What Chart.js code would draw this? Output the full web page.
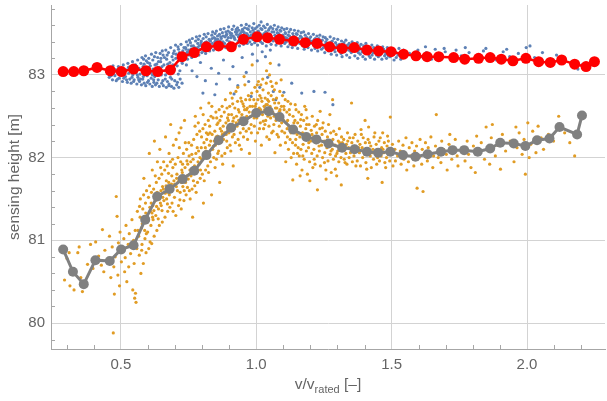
<!DOCTYPE html>
<html>
<head>
<meta charset="utf-8">
<script src="https://cdn.jsdelivr.net/npm/chart.js@4"></script>
<style>
  body { margin: 0; background: #fff; }
  canvas { display: block; }
</style>
</head>
<body>
<canvas id="chart" width="607" height="401"></canvas>
<script>
// tick labels
const xTicks = [0.5, 1.0, 1.5, 2.0];
const yTicks = [80, 81, 82, 83];

// binned mean, upper sensor (red)
const redX = [0.287,0.326,0.363,0.412,0.461,0.502,0.547,0.593,0.636,0.683,0.726,0.771,0.816,0.861,0.908,0.953,1.003,1.042,1.086,1.138,1.181,1.225,1.271,1.317,1.362,1.409,1.452,1.498,1.544,1.590,1.631,1.674,1.729,1.770,1.821,1.864,1.905,1.948,1.996,2.043,2.086,2.128,2.176,2.218,2.249];
const redY = [83.04,83.04,83.05,83.09,83.05,83.04,83.07,83.05,83.04,83.06,83.22,83.27,83.34,83.35,83.34,83.43,83.46,83.45,83.43,83.41,83.39,83.38,83.34,83.32,83.33,83.30,83.29,83.28,83.25,83.23,83.22,83.22,83.21,83.19,83.20,83.21,83.19,83.17,83.20,83.16,83.15,83.18,83.13,83.10,83.16];

// binned mean, lower sensor (gray)
const grayX = [0.287,0.323,0.363,0.406,0.459,0.501,0.547,0.590,0.634,0.680,0.728,0.771,0.816,0.861,0.907,0.953,1.000,1.046,1.086,1.136,1.185,1.222,1.267,1.317,1.363,1.409,1.450,1.495,1.542,1.588,1.633,1.682,1.725,1.768,1.818,1.864,1.901,1.951,1.994,2.037,2.083,2.120,2.185,2.203];
const grayY = [80.89,80.62,80.47,80.76,80.75,80.89,80.94,81.25,81.53,81.62,81.74,81.84,82.03,82.21,82.36,82.44,82.54,82.56,82.49,82.34,82.25,82.22,82.17,82.12,82.10,82.07,82.06,82.07,82.03,82.01,82.04,82.07,82.09,82.09,82.07,82.11,82.18,82.17,82.14,82.21,82.23,82.37,82.28,82.51];

// raw samples, upper sensor (blue)
const bluePts = [
[0.457,82.97],[0.461,83.05],[0.466,83.01],[0.469,82.94],[0.474,83.07],[0.478,82.99],[0.483,82.93],[0.486,83.03],[0.491,83.10],[0.494,82.96],
[0.499,83.08],[0.503,83.01],[0.506,82.92],[0.509,83.12],[0.513,83.04],[0.517,82.98],[0.519,83.06],[0.524,82.91],[0.526,83.14],[0.529,83.02],
[0.533,82.95],[0.537,83.10],[0.538,82.90],[0.543,83.16],[0.544,83.00],[0.548,83.07],[0.549,82.94],[0.554,83.12],[0.555,83.03],[0.559,82.89],
[0.562,83.18],[0.563,82.97],[0.567,83.08],[0.569,82.92],[0.571,83.01],[0.574,83.14],[0.576,82.88],[0.578,83.21],[0.581,82.95],[0.582,83.10],
[0.584,83.19],[0.586,82.90],[0.588,83.04],[0.591,83.23],[0.592,82.87],[0.595,83.06],[0.597,82.99],[0.599,83.15],[0.602,82.93],[0.603,83.20],
[0.605,83.02],[0.607,82.89],[0.609,83.11],[0.612,82.96],[0.613,83.25],[0.616,82.86],[0.618,83.18],[0.619,83.07],[0.622,82.91],[0.624,83.22],
[0.625,82.98],[0.628,82.88],[0.629,83.27],[0.632,83.13],[0.634,83.03],[0.636,83.21],[0.638,82.94],[0.641,83.09],[0.642,82.86],[0.645,83.26],
[0.647,83.16],[0.649,83.00],[0.651,82.90],[0.653,83.29],[0.656,83.24],[0.657,82.87],[0.659,83.12],[0.662,83.05],[0.664,82.95],[0.666,83.30],
[0.668,82.85],[0.669,83.19],[0.672,82.92],[0.674,83.08],[0.676,83.27],[0.678,82.89],[0.681,83.15],[0.683,82.97],[0.684,83.33],[0.687,82.86],
[0.689,83.22],[0.691,83.02],[0.693,83.18],[0.696,82.84],[0.697,83.29],[0.699,82.93],[0.702,83.36],[0.704,83.25],[0.706,82.88],[0.708,83.11],
[0.711,83.34],[0.713,83.31],[0.714,82.85],[0.717,83.20],[0.719,82.95],[0.722,83.37],[0.724,83.24],[0.726,82.90],[0.729,83.29],
[0.471,83.11],[0.488,82.95],[0.508,83.00],[0.521,82.94],[0.535,83.05],[0.547,82.92],[0.561,83.00],[0.573,82.95],[0.586,83.13],[0.598,82.91],
[0.611,83.03],[0.621,82.94],[0.633,82.90],[0.644,83.05],[0.655,82.93],[0.665,83.00],[0.677,82.87],[0.688,82.95],[0.698,83.07],[0.709,82.91],
[0.718,83.05],[0.727,83.14],[0.579,83.06],[0.603,83.09],[0.626,83.12],[0.648,83.20],[0.671,83.24],[0.694,83.26],[0.716,83.27],[0.733,83.33],
[0.464,82.99],[0.482,83.06],[0.496,83.02],[0.511,82.96],[0.528,83.09],[0.541,82.97],[0.557,83.10],[0.566,82.94],[0.583,82.98],[0.594,83.17],
[0.606,83.14],[0.617,83.00],[0.631,83.06],[0.639,83.16],[0.652,83.10],[0.661,83.21],[0.673,83.13],[0.682,83.04],[0.692,83.12],[0.703,83.20],
[0.712,83.01],[0.721,83.17],[0.731,83.21],
[0.737,83.22],[0.739,83.33],[0.742,83.40],[0.744,83.27],[0.746,83.19],[0.748,83.36],[0.751,83.30],[0.753,83.42],[0.756,83.25],[0.757,83.39],
[0.759,83.31],[0.762,83.21],[0.764,83.44],[0.766,83.28],[0.768,83.35],[0.771,83.23],[0.773,83.33],[0.776,83.41],[0.777,83.26],[0.779,83.46],
[0.782,83.29],[0.784,83.38],[0.786,83.43],[0.788,83.24],[0.791,83.47],[0.793,83.31],[0.795,83.36],[0.797,83.41],[0.799,83.27],[0.802,83.34],
[0.804,83.44],[0.806,83.29],[0.808,83.49],[0.811,83.39],[0.813,83.26],[0.815,83.46],[0.817,83.32],[0.822,83.50],[0.824,83.36],[0.826,83.43],
[0.828,83.29],[0.831,83.41],[0.833,83.33],[0.836,83.48],[0.838,83.38],[0.839,83.52],[0.842,83.30],[0.844,83.45],[0.846,83.36],[0.848,83.50],
[0.851,83.42],[0.853,83.53],[0.855,83.34],[0.857,83.47],[0.859,83.39],[0.862,83.37],[0.864,83.49],[0.866,83.31],[0.868,83.55],[0.871,83.44],
[0.873,83.35],[0.875,83.51],[0.877,83.40],[0.881,83.56],[0.883,83.38],[0.885,83.46],[0.887,83.33],[0.891,83.49],[0.892,83.42],[0.894,83.36],
[0.896,83.53],[0.898,83.58],[0.901,83.40],[0.903,83.51],[0.905,83.34],[0.907,83.45],[0.911,83.55],[0.913,83.38],[0.915,83.47],[0.917,83.59],
[0.921,83.43],[0.923,83.52],[0.925,83.36],[0.927,83.49],[0.931,83.57],[0.933,83.41],[0.934,83.46],[0.936,83.54],[0.938,83.35],[0.941,83.50],
[0.943,83.39],[0.945,83.60],[0.947,83.44],[0.951,83.53],[0.953,83.37],[0.955,83.47],[0.957,83.57],
[0.747,83.28],[0.768,83.31],[0.789,83.35],[0.809,83.38],[0.829,83.41],[0.849,83.44],[0.869,83.46],[0.889,83.48],[0.909,83.50],[0.929,83.52],[0.949,83.55],
[0.741,83.31],[0.752,83.24],[0.761,83.35],[0.774,83.29],[0.783,83.33],[0.796,83.39],[0.807,83.33],[0.816,83.40],[0.827,83.37],[0.837,83.44],
[0.847,83.40],[0.858,83.43],[0.867,83.41],[0.878,83.47],[0.888,83.52],[0.897,83.45],[0.906,83.48],[0.919,83.45],[0.926,83.55],[0.937,83.48],
[0.946,83.52],[0.956,83.51],
[0.961,83.42],[0.963,83.61],[0.965,83.50],[0.967,83.38],[0.971,83.55],[0.972,83.46],[0.974,83.59],[0.976,83.40],[0.978,83.52],[0.981,83.48],
[0.983,83.37],[0.985,83.57],[0.987,83.43],[0.991,83.62],[0.993,83.51],[0.994,83.39],[0.996,83.56],[0.998,83.45],[1.001,83.47],[1.003,83.58],
[1.005,83.36],[1.007,83.53],[1.011,83.60],[1.012,83.44],[1.014,83.50],[1.016,83.40],[1.018,83.64],[1.021,83.55],[1.023,83.38],[1.025,83.48],
[1.027,83.59],[1.031,83.42],[1.033,83.57],[1.035,83.52],[1.037,83.35],[1.041,83.61],[1.043,83.46],[1.045,83.54],[1.047,83.40],[1.051,83.49],
[1.053,83.58],[1.055,83.37],[1.057,83.44],[1.061,83.56],[1.063,83.41],[1.065,83.52],[1.067,83.60],[1.071,83.47],[1.073,83.36],[1.075,83.55],
[1.077,83.43],[1.081,83.58],[1.083,83.50],[1.085,83.39],[1.087,83.45],[1.091,83.53],[1.092,83.35],[1.094,83.57],[1.096,83.42],[1.098,83.48],
[1.101,83.46],[1.103,83.55],[1.105,83.38],[1.107,83.51],[1.111,83.40],[1.113,83.56],[1.115,83.44],[1.117,83.34],[1.121,83.52],[1.123,83.47],
[1.125,83.37],[1.127,83.55],[1.131,83.43],[1.133,83.33],[1.135,83.50],[1.137,83.39],[1.141,83.54],[1.143,83.46],[1.145,83.36],[1.147,83.41],
[1.151,83.49],[1.153,83.32],[1.155,83.53],[1.157,83.44],[1.161,83.38],[1.163,83.47],[1.166,83.51],[1.171,83.43],[1.173,83.35],[1.175,83.52],
[1.177,83.31],[1.181,83.48],[1.184,83.40],[1.187,83.45],[1.191,83.33],[1.193,83.50],[1.195,83.37],[1.197,83.44],
[0.969,83.48],[0.989,83.50],[1.009,83.52],[1.029,83.50],[1.049,83.49],[1.069,83.48],[1.089,83.47],[1.109,83.45],[1.129,83.44],[1.149,83.43],
[1.169,83.41],[1.189,83.40],
[0.966,83.56],[0.977,83.45],[0.988,83.54],[0.997,83.50],[1.008,83.45],[1.017,83.56],[1.028,83.45],[1.038,83.51],[1.048,83.56],[1.058,83.52],
[1.068,83.44],[1.078,83.51],[1.088,83.54],[1.099,83.41],[1.108,83.50],[1.118,83.48],[1.128,83.41],[1.138,83.47],[1.148,83.50],[1.158,83.40],
[1.168,83.45],[1.178,83.38],[1.188,83.43],[1.198,83.41],
[1.201,83.46],[1.204,83.30],[1.207,83.41],[1.211,83.49],[1.213,83.36],[1.215,83.43],[1.217,83.32],[1.221,83.39],[1.224,83.47],[1.227,83.29],
[1.231,83.44],[1.233,83.34],[1.235,83.48],[1.237,83.38],[1.241,83.31],[1.244,83.42],[1.247,83.46],[1.251,83.36],[1.253,83.27],[1.255,83.45],
[1.257,83.40],[1.261,83.43],[1.264,83.33],[1.267,83.29],[1.271,83.38],[1.273,83.46],[1.275,83.31],[1.277,83.25],[1.281,83.41],[1.284,83.35],
[1.287,83.44],[1.291,83.28],[1.293,83.39],[1.295,83.33],[1.297,83.24],[1.301,83.43],[1.304,83.30],[1.307,83.37],[1.311,83.35],[1.313,83.26],
[1.315,83.41],[1.317,83.22],[1.321,83.32],[1.324,83.39],[1.327,83.28],[1.331,83.42],[1.334,83.24],[1.337,83.36],[1.341,83.30],[1.343,83.38],
[1.345,83.21],[1.347,83.34],[1.351,83.27],[1.354,83.40],[1.357,83.33],[1.361,83.36],[1.364,83.23],[1.367,83.30],[1.371,83.31],[1.373,83.39],
[1.375,83.20],[1.377,83.27],[1.381,83.34],[1.384,83.25],[1.387,83.37],[1.391,83.28],[1.394,83.22],[1.397,83.35],[1.401,83.32],[1.403,83.19],
[1.405,83.38],[1.407,83.26],[1.411,83.29],[1.414,83.34],[1.417,83.23],[1.421,83.21],[1.424,83.31],[1.427,83.36],[1.431,83.27],[1.434,83.33],
[1.437,83.19],[1.441,83.30],[1.444,83.24],[1.447,83.35],[1.451,83.22],[1.454,83.28],[1.457,83.32],[1.461,83.26],[1.464,83.19],[1.467,83.34],
[1.471,83.31],[1.474,83.23],[1.477,83.28],[1.481,83.20],[1.484,83.33],[1.487,83.26],[1.491,83.29],[1.494,83.22],[1.503,83.25],[1.506,83.31],
[1.509,83.18],[1.514,83.28],[1.517,83.21],[1.523,83.24],[1.527,83.32],[1.534,83.19],[1.538,83.27],[1.544,83.30],[1.548,83.23],
[1.208,83.38],[1.218,83.44],[1.228,83.36],[1.238,83.41],[1.248,83.33],[1.258,83.38],[1.268,83.35],[1.278,83.40],[1.288,83.31],[1.298,83.36],
[1.308,83.33],[1.318,83.37],[1.328,83.30],[1.338,83.33],[1.348,83.29],[1.358,83.31],[1.368,83.35],[1.378,83.30],[1.388,83.31],[1.398,83.27],
[1.408,83.30],[1.418,83.28],[1.428,83.24],[1.438,83.29],[1.448,83.27],[1.458,83.24],[1.468,83.29],[1.478,83.25],[1.488,83.23],[1.498,83.27],
[1.566,83.26],[1.583,83.20],[1.597,83.30],[1.612,83.22],[1.628,83.27],[1.647,83.19],[1.661,83.31],[1.679,83.24],[1.698,83.28],[1.716,83.21],
[1.738,83.30],[1.757,83.23],[1.786,83.27],[1.808,83.20],[1.839,83.29],[1.862,83.24],[1.887,83.18],[1.912,83.28],[1.936,83.22],[1.968,83.26],
[1.997,83.33],[2.011,83.35],[2.028,83.21],[2.057,83.27],[2.083,83.18],[2.109,83.24],[2.137,83.20],[2.162,83.15],[2.188,83.07],[2.203,83.12],
[1.625,83.34],[1.694,83.32],[1.772,83.33],[1.848,83.32],[1.925,83.31],
[0.742,83.12],[0.763,83.05],[0.781,82.98],[0.794,83.15],[0.812,82.93],[0.834,83.08],[0.853,82.89],[0.861,83.02],[0.879,83.18],[0.902,82.95],
[0.914,83.10],[0.932,82.87],[0.948,83.21],[0.963,83.03],[0.972,82.92],[0.986,83.25],[1.004,83.17],[1.013,82.85],[1.022,83.28],[1.034,83.22],
[1.042,82.97],[1.052,83.30],[1.063,82.80],[1.084,83.12],[1.102,82.79],[1.131,82.90],[1.168,82.78],[1.213,82.80],[1.254,82.79],[1.283,82.64],
[0.803,82.78],[0.847,82.76],[0.918,82.77],[0.981,82.74],[1.031,82.62],[1.072,82.70]
];

// raw samples, lower sensor (orange)
const orangePts = [
[0.292,80.52],[0.301,80.78],[0.309,80.85],[0.318,80.64],[0.327,80.40],[0.341,80.85],[0.352,80.55],[0.358,80.38],[0.368,80.49],[0.377,80.71],
[0.388,80.95],[0.397,80.66],[0.312,80.45],[0.346,80.92],
[0.407,80.98],[0.418,80.81],[0.432,81.13],[0.428,80.70],[0.441,80.88],[0.437,80.62],[0.452,80.76],[0.458,81.05],[0.463,80.55],[0.472,79.88],
[0.468,80.92],[0.474,80.68],[0.483,81.53],[0.479,80.80],[0.476,80.35],[0.486,81.29],[0.491,80.97],[0.489,80.58],[0.497,81.10],[0.502,80.74],[0.495,80.45],
[0.507,80.88],[0.511,81.02],[0.514,80.62],[0.519,81.18],[0.516,80.79],[0.522,80.50],[0.527,80.95],[0.531,81.08],[0.529,80.68],[0.536,80.84],
[0.541,81.25],[0.544,80.40],[0.547,81.00],[0.549,80.72],[0.551,80.30],[0.553,81.12],[0.556,80.25],[0.559,80.90],[0.561,81.35],[0.554,80.36],
[0.566,81.05],[0.568,80.82],[0.571,81.28],[0.572,81.50],[0.574,80.60],[0.576,81.15],[0.578,80.95],[0.581,81.38],[0.583,80.72],[0.585,81.75],
[0.587,81.22],[0.589,81.02],[0.591,81.45],[0.593,80.85],[0.595,81.60],[0.597,81.30],[0.599,81.10],[0.602,81.52],[0.603,80.90],[0.605,82.05],
[0.607,81.40],[0.609,81.35],[0.611,81.18],[0.613,81.58],[0.614,80.96],[0.616,81.85],[0.618,81.42],[0.619,81.25],[0.621,81.62],[0.623,81.05],
[0.624,82.20],[0.626,81.50],[0.628,81.48],[0.629,81.30],[0.631,81.70],[0.633,81.12],[0.635,81.95],[0.637,81.55],[0.639,81.38],[0.641,81.75],
[0.642,81.18],[0.644,82.10],[0.646,81.45],[0.648,81.60],[0.649,81.42],[0.651,81.80],[0.653,81.22],[0.655,81.52],
[0.579,81.20],[0.592,81.33],[0.601,81.25],[0.612,81.45],[0.622,81.36],[0.634,81.58],[0.643,81.50],[0.654,81.65],[0.588,81.12],[0.617,81.28],
[0.563,81.12],[0.569,81.41],[0.577,80.88],[0.584,81.55],[0.594,81.08],[0.606,81.66],[0.608,80.98],[0.615,81.33],[0.627,81.78],[0.632,81.41],
[0.638,81.26],[0.647,81.88],[0.652,81.36],
[0.657,81.62],[0.659,81.48],[0.662,81.85],[0.663,81.28],[0.665,82.25],[0.667,81.66],[0.669,81.50],[0.671,81.90],[0.673,81.35],[0.675,81.58],
[0.677,81.70],[0.679,81.55],[0.681,81.40],[0.683,81.95],[0.684,82.40],[0.686,81.63],[0.688,81.78],[0.689,81.45],[0.692,81.88],[0.694,82.15],
[0.696,81.72],[0.698,81.52],[0.701,81.92],[0.703,81.30],[0.705,81.65],[0.707,81.80],[0.709,81.60],[0.711,82.00],[0.713,81.42],[0.715,82.30],
[0.717,81.75],[0.719,81.58],[0.721,81.95],[0.723,81.38],[0.725,81.85],[0.727,81.82],[0.729,81.65],[0.731,82.05],[0.733,81.48],[0.735,82.45],
[0.737,81.88],[0.739,81.70],[0.741,81.55],[0.743,82.10],[0.745,81.78],[0.747,81.92],[0.749,81.74],[0.751,82.18],[0.753,81.60],[0.755,81.85],
[0.668,81.72],[0.687,81.68],[0.706,81.75],[0.724,81.70],[0.744,81.96],[0.678,82.05],[0.716,82.12],
[0.658,81.95],[0.664,81.57],[0.672,81.44],[0.676,81.81],[0.682,81.62],[0.691,81.98],[0.693,81.35],[0.699,81.68],[0.704,82.22],[0.712,81.71],
[0.718,81.49],[0.722,82.36],[0.728,81.92],[0.734,81.60],[0.738,82.18],[0.746,81.64],[0.752,82.02],[0.756,81.50],
[0.758,81.95],[0.759,81.78],[0.761,82.15],[0.763,81.62],[0.765,81.28],[0.767,81.98],[0.769,82.22],[0.771,81.82],[0.773,81.66],[0.775,82.50],
[0.777,82.05],[0.779,81.88],[0.781,82.28],[0.783,81.70],[0.785,81.95],[0.787,82.08],[0.789,81.92],[0.791,82.32],[0.793,81.75],[0.795,82.60],
[0.797,82.12],[0.799,81.98],[0.801,81.80],[0.803,82.35],[0.805,81.45],[0.807,82.18],[0.809,82.02],[0.811,82.40],[0.813,81.85],[0.815,82.08],
[0.817,82.22],[0.819,82.05],[0.821,81.90],[0.823,82.45],[0.825,82.66],[0.827,82.15],[0.829,82.30],[0.831,81.95],[0.833,82.50],[0.835,81.55],
[0.837,82.28],[0.839,82.10],[0.841,82.48],[0.843,82.00],[0.845,82.20],[0.847,82.32],[0.849,82.15],[0.851,82.55],[0.853,81.98],[0.855,82.40],
[0.857,82.26],[0.859,82.42],[0.861,82.08],[0.863,82.58],[0.865,81.70],[0.867,82.35],[0.869,82.20],[0.871,82.50],[0.873,82.02],[0.875,82.28],
[0.772,81.90],[0.792,82.00],[0.812,82.12],[0.832,82.20],[0.852,82.25],[0.872,82.32],[0.782,82.12],[0.822,82.28],[0.862,82.18],
[0.762,82.04],[0.768,81.72],[0.774,82.38],[0.778,81.58],[0.786,82.42],[0.794,81.85],[0.798,82.25],[0.804,82.52],[0.808,81.72],[0.816,82.30],
[0.824,81.82],[0.828,82.38],[0.836,82.62],[0.842,82.14],[0.848,81.88],[0.854,82.48],[0.858,82.05],[0.866,82.45],[0.874,82.62],[0.876,81.92],
[0.878,82.38],[0.879,82.22],[0.882,82.55],[0.884,82.05],[0.886,82.70],[0.888,82.42],[0.889,82.28],[0.892,82.60],[0.893,82.12],[0.895,82.35],
[0.897,82.45],[0.899,82.30],[0.902,82.62],[0.903,82.15],[0.905,82.78],[0.907,82.40],[0.909,82.52],[0.912,82.25],[0.913,82.65],[0.915,81.90],
[0.917,82.48],[0.919,82.35],[0.921,82.60],[0.923,82.18],[0.925,82.80],[0.927,82.50],[0.929,82.38],[0.931,82.68],[0.933,82.22],[0.935,82.45],
[0.937,82.55],[0.939,82.42],[0.941,82.30],[0.943,82.72],[0.945,82.10],[0.947,82.52],[0.949,82.40],[0.951,82.65],[0.953,82.25],[0.955,82.98],
[0.957,82.58],[0.959,82.45],[0.961,82.70],[0.963,82.32],[0.965,82.50],[0.967,82.60],[0.969,82.48],[0.971,82.75],[0.973,82.35],[0.975,82.05],
[0.977,82.62],[0.979,82.50],[0.981,82.40],[0.983,82.78],[0.985,83.12],
[0.894,82.48],[0.914,82.44],[0.934,82.58],[0.954,82.62],[0.974,82.55],[0.904,82.35],[0.944,82.48],
[0.883,82.30],[0.891,82.20],[0.898,82.52],[0.906,82.08],[0.911,82.72],[0.918,82.28],[0.926,82.42],[0.932,82.85],[0.938,82.15],[0.946,82.68],
[0.952,82.35],[0.958,82.88],[0.964,82.58],[0.968,82.22],[0.976,82.70],[0.982,82.30],[0.986,82.62],
[0.988,82.55],[0.991,82.70],[0.993,82.38],[0.995,82.85],[0.997,82.20],[0.999,82.65],[1.002,82.48],[1.003,82.80],[1.005,82.30],[1.007,82.58],
[1.008,82.92],[1.011,82.60],[1.013,82.75],[1.015,82.42],[1.017,82.88],[1.019,82.15],[1.021,82.68],[1.023,82.52],[1.025,82.82],[1.027,82.35],
[1.029,82.62],[1.031,82.58],[1.033,82.72],[1.035,82.45],[1.037,82.90],[1.039,82.25],[1.038,83.05],[1.041,82.64],[1.043,82.50],[1.045,82.78],
[1.047,82.38],[1.049,83.00],[1.051,82.62],[1.053,82.48],[1.055,82.75],[1.057,82.30],[1.059,82.86],[1.052,83.14],[1.061,82.55],[1.063,82.70],
[1.065,82.40],[1.067,82.82],[1.069,82.06],[1.071,82.60],[1.073,82.45],[1.075,82.72],[1.077,82.28],[1.079,82.52],[1.081,82.52],[1.083,82.66],
[1.085,82.38],[1.087,82.80],[1.089,82.15],[1.091,82.48],[1.093,82.62],[1.095,82.32],[1.097,82.75],[1.092,82.94],[1.101,82.45],[1.103,82.58],
[1.105,82.30],[1.107,82.70],[1.109,81.95],[1.111,82.42],[1.113,82.55],[1.115,82.25],[1.117,82.68],[1.119,82.10],[1.121,82.38],[1.123,82.52],
[1.125,82.22],[1.127,82.65],[1.129,82.00],
[0.996,82.62],[1.016,82.58],[1.036,82.64],[1.056,82.55],[1.076,82.60],[1.096,82.50],[1.116,82.45],[1.006,82.70],[1.046,82.68],[1.086,82.56],
[1.026,82.44],[1.066,82.50],
[0.992,82.48],[1.004,82.88],[1.012,82.35],[1.018,82.72],[1.024,82.95],[1.032,82.40],[1.042,82.70],[1.048,82.22],[1.054,82.92],[1.062,82.32],
[1.068,82.66],[1.074,82.90],[1.082,82.25],[1.088,82.58],[1.094,82.42],[1.102,82.62],[1.108,82.18],[1.114,82.35],[1.122,82.58],[1.128,82.30],
[1.132,82.35],[1.134,82.18],[1.136,82.50],[1.138,82.05],[1.135,81.73],[1.141,82.30],[1.143,82.45],[1.145,82.15],[1.147,82.58],[1.149,81.92],
[1.151,82.28],[1.153,82.42],[1.155,82.12],[1.157,82.55],[1.159,82.02],[1.161,82.25],[1.163,82.38],[1.165,82.10],[1.167,82.52],[1.169,81.85],
[1.171,82.30],[1.173,82.16],[1.175,82.45],[1.177,81.98],[1.179,82.62],[1.181,82.22],[1.183,82.35],[1.185,82.08],[1.187,82.48],[1.189,81.80],
[1.191,82.26],[1.193,82.12],[1.195,82.40],[1.197,81.95],[1.201,82.20],[1.203,82.33],[1.205,82.05],[1.207,82.50],[1.209,81.88],[1.211,82.24],
[1.213,82.10],[1.215,82.38],[1.217,81.92],[1.221,82.18],[1.223,82.30],[1.225,82.02],[1.227,82.45],[1.226,81.61],[1.231,82.22],[1.233,82.08],
[1.235,82.35],[1.237,81.90],[1.241,82.15],[1.243,82.28],[1.245,82.00],[1.247,82.42],[1.251,82.20],[1.253,82.06],[1.255,82.32],[1.257,81.85],
[1.261,82.12],[1.263,82.25],[1.265,81.96],[1.267,82.40],[1.271,82.18],[1.273,82.04],[1.275,82.30],[1.277,81.82],[1.281,82.10],[1.283,82.22],
[1.285,81.98],[1.282,82.70],[1.291,82.15],[1.293,82.02],[1.295,82.28],[1.297,81.78],[1.301,82.08],[1.303,82.20],[1.305,81.95],[1.307,82.35],
[1.311,82.12],[1.313,82.00],[1.315,82.25],[1.314,81.67],
[1.139,82.42],[1.146,82.22],[1.152,82.05],[1.164,82.46],[1.172,82.02],[1.178,82.28],[1.186,82.40],[1.194,82.18],[1.206,82.28],[1.214,81.98],
[1.222,82.40],[1.232,82.14],[1.244,82.36],[1.252,81.94],[1.264,82.18],[1.276,82.08],[1.286,82.32],[1.298,82.05],[1.308,82.18],
[1.144,82.64],[1.162,81.78],[1.184,82.58],[1.198,81.72],[1.236,82.56],[1.258,81.74],[1.272,82.52],[1.292,81.86],
[1.321,82.10],[1.323,82.22],[1.325,81.98],[1.331,82.05],[1.333,82.16],[1.335,81.92],[1.337,82.30],[1.341,82.12],[1.343,82.00],[1.345,82.24],
[1.351,82.08],[1.353,82.18],[1.355,81.95],[1.352,82.66],[1.361,82.02],[1.363,82.14],[1.365,82.28],[1.371,82.10],[1.373,81.96],[1.375,82.20],
[1.381,82.06],[1.383,82.16],[1.385,81.90],[1.387,82.34],[1.391,82.12],[1.393,82.00],[1.395,82.24],[1.401,82.04],[1.403,82.18],[1.405,81.94],
[1.402,82.45],[1.411,82.08],[1.413,82.22],[1.415,82.37],[1.412,81.75],[1.421,82.02],[1.423,82.14],[1.425,81.88],[1.431,82.10],[1.433,81.98],
[1.435,82.25],[1.441,82.05],[1.443,82.16],[1.445,81.92],[1.451,82.08],[1.453,82.20],[1.455,81.96],[1.461,82.02],[1.463,82.12],[1.465,81.70],
[1.467,82.30],[1.471,82.06],[1.473,82.18],[1.475,81.94],[1.481,82.00],[1.483,82.14],[1.485,82.26],[1.491,82.08],[1.493,81.96],[1.495,82.49],
[1.501,82.04],[1.503,82.16],[1.505,81.90],
[1.318,82.18],[1.328,81.94],[1.338,82.20],[1.348,82.06],[1.358,82.24],[1.368,81.90],[1.378,82.12],[1.388,82.28],[1.398,82.08],[1.408,81.86],
[1.418,82.18],[1.428,82.06],[1.438,82.30],[1.448,82.00],[1.458,82.24],[1.468,82.10],[1.478,81.88],[1.488,82.20],[1.498,82.10],
[1.512,82.10],[1.514,81.96],[1.522,82.02],[1.526,82.20],[1.532,82.08],[1.535,81.92],[1.542,82.15],[1.545,81.98],[1.551,82.05],[1.553,82.24],
[1.556,81.85],[1.562,81.95],[1.565,82.12],[1.572,82.02],[1.575,82.18],[1.582,81.90],[1.585,82.08],[1.592,82.14],[1.594,81.63],[1.602,82.00],
[1.605,82.22],[1.611,81.92],[1.613,82.10],[1.616,81.59],[1.622,82.04],[1.625,82.18],[1.632,81.96],[1.635,82.12],[1.642,82.06],[1.645,82.25],
[1.652,81.88],[1.655,82.02],[1.662,82.14],[1.665,82.52],[1.672,82.00],[1.675,82.08],[1.682,81.94],[1.685,82.20],[1.692,82.10],[1.702,82.04],
[1.705,81.85],[1.712,82.16],[1.715,82.28],[1.722,81.98],[1.732,82.08],[1.735,82.22],[1.742,82.02],[1.745,81.90],
[1.762,82.12],[1.771,81.96],[1.779,82.20],[1.784,82.04],[1.793,81.88],[1.802,82.14],[1.809,81.82],[1.814,82.26],[1.822,82.06],[1.831,82.18],
[1.843,81.98],[1.849,82.37],[1.853,82.10],[1.862,81.92],[1.868,82.24],[1.872,82.40],[1.883,82.02],[1.891,82.15],[1.902,81.86],[1.909,82.28],
[1.921,82.08],[1.938,82.20],[1.952,81.95],[1.959,82.37],[1.963,82.12],[1.971,82.30],[1.982,82.04],[1.989,82.22],[1.994,81.80],[2.003,82.42],
[2.008,82.00],[2.014,82.16],[2.021,82.32],[2.033,82.06],[2.041,82.38],[2.052,82.24],[2.061,82.10],[2.079,82.28],[2.098,82.20],[2.117,82.50],
[2.139,82.30],[2.158,82.18],[2.176,82.02]
];

const labelColor = '#646464';
const fontFamily = "'Liberation Sans', Arial, sans-serif";

const toXY = (xs, ys) => xs.map((x, i) => ({ x: x, y: ys[i] }));
const toPts = (arr) => arr.map(p => ({ x: p[0], y: p[1] }));

// minor ticks on the frame + x-axis title with subscript
const frameDecor = {
  id: 'frameDecor',
  afterDraw(chart) {
    const { ctx, chartArea: a, scales: { x, y } } = chart;
    ctx.save();
    ctx.strokeStyle = '#a6a6a6';
    ctx.lineWidth = 1;
    ctx.beginPath();
    for (let i = 3; i <= 22; i++) {
      if (i % 5 === 0) continue;
      const px = Math.round(x.getPixelForValue(i / 10)) + 0.5;
      ctx.moveTo(px, a.bottom);
      ctx.lineTo(px, a.bottom - 4);
    }
    for (let i = 399; i <= 419; i++) {
      if (i % 5 === 0) continue;
      const py = Math.round(y.getPixelForValue(i / 5)) + 0.5;
      ctx.moveTo(a.left, py);
      ctx.lineTo(a.left + 4, py);
    }
    ctx.stroke();

    // x title: v/v_rated [–]
    ctx.fillStyle = labelColor;
    ctx.textBaseline = 'alphabetic';
    const base = 389;
    const p1 = 'v/v', p2 = 'rated', p3 = ' [\u2013]';
    ctx.font = '15.5px ' + fontFamily;
    const w1 = ctx.measureText(p1).width;
    const w3 = ctx.measureText(p3).width;
    ctx.font = '11px ' + fontFamily;
    const w2 = ctx.measureText(p2).width;
    let cx = (a.left + a.right) / 2 - (w1 + w2 + w3) / 2;
    ctx.font = '15.5px ' + fontFamily;
    ctx.fillText(p1, cx, base);
    cx += w1;
    ctx.font = '11px ' + fontFamily;
    ctx.fillText(p2, cx, base + 4);
    cx += w2;
    ctx.font = '15.5px ' + fontFamily;
    ctx.fillText(p3, cx, base);
    ctx.restore();
  }
};

new Chart(document.getElementById('chart'), {
  type: 'scatter',
  data: {
    datasets: [
      {
        data: toXY(redX, redY),
        showLine: true,
        borderColor: 'rgb(255,0,0)',
        backgroundColor: 'rgb(255,0,0)',
        borderWidth: 2.5,
        pointRadius: 5.5,
        pointBorderWidth: 0
      },
      {
        data: toXY(grayX, grayY),
        showLine: true,
        borderColor: 'rgb(128,128,128)',
        backgroundColor: 'rgb(128,128,128)',
        borderWidth: 3,
        pointRadius: 5,
        pointBorderWidth: 0
      },
      {
        data: toPts(orangePts),
        backgroundColor: 'rgb(225,156,36)',
        pointRadius: 1.6,
        pointBorderWidth: 0
      },
      {
        data: toPts(bluePts),
        backgroundColor: 'rgb(94,129,181)',
        pointRadius: 1.6,
        pointBorderWidth: 0
      }
    ]
  },
  options: {
    responsive: false,
    animation: false,
    layout: { autoPadding: false, padding: { top: 5, right: 2, left: 0, bottom: 0 } },
    plugins: { legend: { display: false }, tooltip: { enabled: false } },
    scales: {
      x: {
        type: 'linear',
        min: 0.242,
        max: 2.288,
        afterBuildTicks: (s) => { s.ticks = xTicks.map(v => ({ value: v })); },
        afterFit: (s) => { s.height = 52; s.paddingLeft = 0; s.paddingRight = 0; },
        grid: { color: '#d3d3d3', drawTicks: false },
        border: { display: true, color: '#a6a6a6' },
        ticks: {
          padding: 7,
          color: labelColor,
          font: { size: 15, family: fontFamily },
          callback: (v) => Number(v).toFixed(1)
        }
      },
      y: {
        type: 'linear',
        min: 79.686,
        max: 83.845,
        afterBuildTicks: (s) => { s.ticks = yTicks.map(v => ({ value: v })); },
        afterFit: (s) => { s.width = 51; s.paddingTop = 0; s.paddingBottom = 0; },
        grid: { color: '#d3d3d3', drawTicks: false },
        border: { display: true, color: '#a6a6a6' },
        ticks: {
          padding: 6,
          color: labelColor,
          font: { size: 15, family: fontFamily },
          callback: (v) => String(v)
        },
        title: {
          display: true,
          text: 'sensing height [m]',
          color: labelColor,
          font: { size: 15.5, family: fontFamily },
          padding: { top: 5, bottom: 0 }
        }
      }
    }
  },
  plugins: [frameDecor]
});
</script>
</body>
</html>
